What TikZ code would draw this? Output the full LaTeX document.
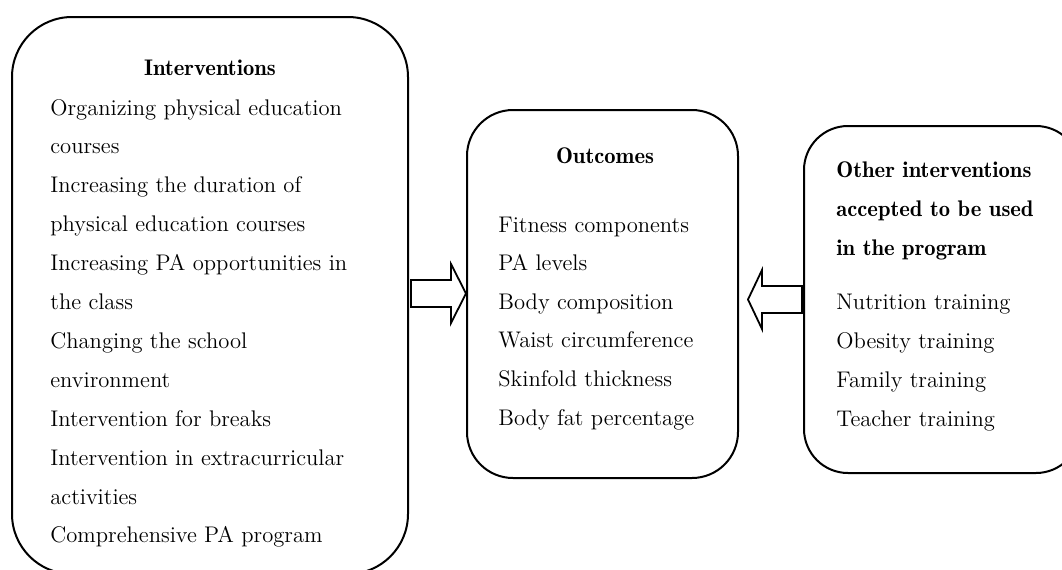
\documentclass[tikz,border=0pt]{standalone}
\usetikzlibrary{calc}
\tikzset{
  panel/.style={draw, line width=1pt, inner sep=0pt},
  item/.style={anchor=base west, inner sep=0pt, font=\fontsize{11.3}{13}\selectfont},
  heading/.style={anchor=base, inner sep=0pt, font=\fontsize{11.3}{13}\fontseries{b}\selectfont},
  arrowline/.style={line width=0.9pt, line join=miter}
}
% block arrow: start, tip, head length (signed)
\newcommand{\fatarrow}[3]{%
  \draw[arrowline] ($(#1)+(0,-13.5)$) -- ($(#2)+(-#3,-13.5)$) -- ($(#2)+(-#3,-29.5)$)
    -- (#2) -- ($(#2)+(-#3,29.5)$) -- ($(#2)+(-#3,13.5)$) -- ($(#1)+(0,13.5)$) -- cycle;}

\begin{document}
\begin{tikzpicture}[x=0.5pt, y=-0.5pt]
  \clip (0,0) rectangle (1062,569);

  %%%%% BOXES %%%%%
  \node[panel, minimum width=198pt, minimum height=278.5pt, rounded corners=30pt] (inter) at (210,295.5) {};
  \node[panel, minimum width=135.5pt, minimum height=184pt, rounded corners=23pt] (outc) at (602.5,294) {};
  \node[panel, minimum width=138pt, minimum height=173.5pt, rounded corners=22pt] (other) at (942,299.5) {};

  %%%%% TEXT %%%%%
  \node[heading] (interhead) at (210,75) {Interventions};
  \foreach \t [count=\i from 0] in {Organizing physical education, courses,
      Increasing the duration of, physical education courses,
      Increasing PA opportunities in, the class, Changing the school,
      environment, Intervention for breaks, Intervention in extracurricular,
      activities, Comprehensive PA program}
    \node[item] (inter\i) at (50,115+38.9*\i) {\t};

  \node[heading] (outchead) at (605,163) {Outcomes};
  \foreach \t [count=\i from 0] in {Fitness components, PA levels, Body composition,
      Waist circumference, Skinfold thickness, Body fat percentage}
    \node[item] (outc\i) at (498,232+38.6*\i) {\t};

  \foreach \t [count=\i from 0] in {Other interventions, accepted to be used, in the program}
    \node[heading, anchor=base west] (otherhead\i) at (836,177+39*\i) {\t};
  \foreach \t [count=\i from 0] in {Nutrition training, Obesity training,
      Family training, Teacher training}
    \node[item] (other\i) at (836,309+39*\i) {\t};

  %%%%% ARROWS %%%%%
  \coordinate (a1tip) at ($(outc.west)+(0,-0.5)$);
  \coordinate (a1) at ($(inter.east |- a1tip)+(2,0)$);
  \fatarrow{a1}{a1tip}{15}

  \coordinate (a2) at ($(other.west)+(-1,0)$);
  \coordinate (a2tip) at ($(outc.east |- other.west)+(9,0)$);
  \fatarrow{a2}{a2tip}{-14}
\end{tikzpicture}
\end{document}
